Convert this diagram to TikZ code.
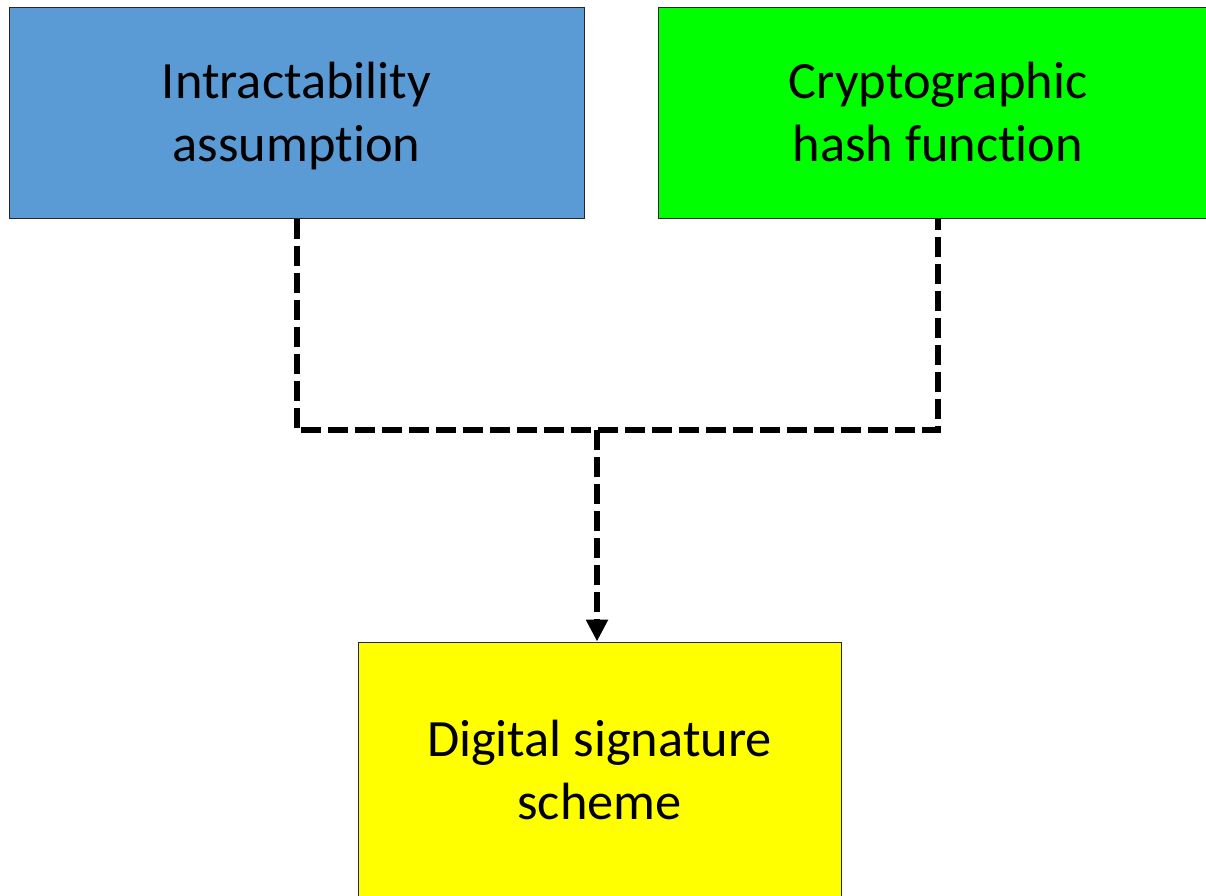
\documentclass[tikz,border=0pt]{standalone}
\usepackage{fontspec}
\setmainfont{Carlito}[Ligatures=CommonOff, RawFeature=-calt]
\usepackage{tikz}
\usetikzlibrary{arrows.meta}

\definecolor{boxblue}{RGB}{91,155,213}
\definecolor{boxgreen}{RGB}{0,255,0}
\definecolor{boxyellow}{RGB}{255,255,0}

\tikzset{
  block/.style={draw=black!85, line width=1pt, inner sep=0pt, align=center,
    font=\fontsize{52.4}{63}\selectfont, text height=98pt, text depth=0pt},
  link/.style={line width=6pt, dash pattern=on 20pt off 7pt, black}
}

\begin{document}
\begin{tikzpicture}[x=1pt,y=1pt,yscale=-1]
    %set diagram to 1206 x 895, boxes at right and bottom run off the edge
    \path[use as bounding box] (0,0) rectangle (1206,895);
    \clip (0,0) rectangle (1206,895);

    %Shape: Rectangle [blue]
    \node[block, fill=boxblue, minimum width=575pt, minimum height=211pt] (intract) at (296.5,112.5) {Intractability\\assumption};
    %Shape: Rectangle [green]
    \node[block, fill=boxgreen, minimum width=560pt, minimum height=211pt] (hash) at (938,112.5) {Cryptographic\\hash function};
    %Shape: Rectangle [yellow]
    \node[block, fill=boxyellow, minimum width=483pt, minimum height=257pt] (sig) at (599.5,770.5) {Digital signature\\scheme};

    %Straight Lines [dashed joins]
    \coordinate (join) at (597,430);
    \draw[link] (intract.south) |- (join) -| (hash.south);
    \draw[link, -{Triangle[width=21pt,length=22pt]}] (join) -- (join |- sig.north);

\end{tikzpicture}
\end{document}
